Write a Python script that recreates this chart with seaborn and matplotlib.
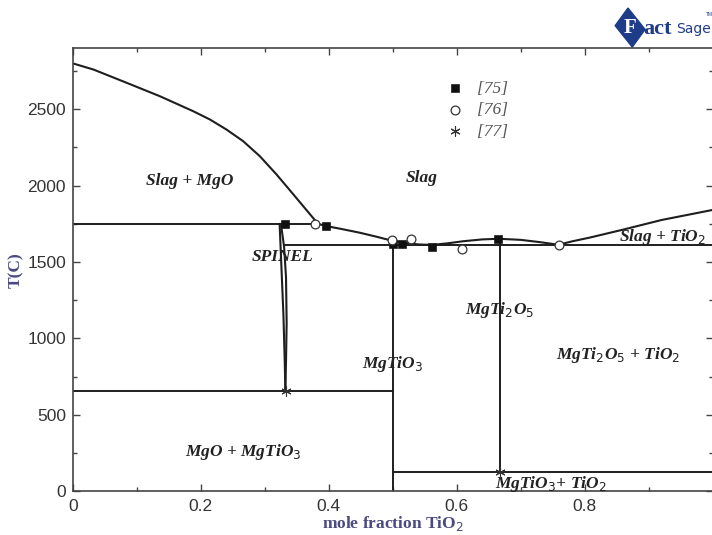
import numpy as np
import pandas as pd
import seaborn as sns
import matplotlib.pyplot as plt
from matplotlib.ticker import MultipleLocator
from matplotlib.patches import Polygon

# --- phase boundaries (x = mole fraction TiO2, T in C) ---
mgo_liq_x = [0, 0.032, 0.084, 0.136, 0.188, 0.214, 0.240, 0.266, 0.292, 0.318, 0.344, 0.365, 0.383]
mgo_liq_t = [2800, 2760, 2673, 2585, 2487, 2433, 2367, 2291, 2193, 2074, 1945, 1840, 1750]

slag_liq_x = [0.383, 0.396, 0.42, 0.448, 0.475, 0.498, 0.52, 0.54, 0.561, 0.585, 0.61, 0.64, 0.666,
              0.70, 0.73, 0.759, 0.78, 0.808, 0.86, 0.92, 1.0]
slag_liq_t = [1750, 1735, 1716, 1692, 1665, 1640, 1625, 1615, 1612, 1622, 1636, 1648, 1652,
              1645, 1630, 1613, 1635, 1660, 1712, 1775, 1841]

spinel_left_x = [0.323, 0.326, 0.329, 0.331, 0.332]
spinel_left_t = [1750, 1450, 1150, 850, 653]
spinel_right_x = [0.325, 0.330, 0.333, 0.334, 0.333, 0.332]
spinel_right_t = [1750, 1600, 1400, 1100, 850, 653]

# straight boundaries: (x0, x1, T0, T1)
segments = [
    (0.0, 0.383, 1750, 1750),
    (0.331, 1.0, 1612, 1612),
    (0.0, 0.5, 653, 653),
    (0.5, 1.0, 124, 124),
    (0.5, 0.5, 0, 1640),
    (0.667, 0.667, 124, 1652),
]

# experimental points
ref75_x = [0.331, 0.396, 0.5, 0.515, 0.561, 0.665]
ref75_t = [1750, 1735, 1615, 1615, 1600, 1648]
ref76_x = [0.378, 0.498, 0.528, 0.608, 0.759]
ref76_t = [1750, 1645, 1648, 1584, 1610]
ref77_x = [0.333, 0.667]
ref77_t = [653, 124]

region_labels = ["Slag + MgO", "Slag", "SPINEL", r"Slag + TiO$_2$", r"MgTi$_2$O$_5$",
                 r"MgTiO$_3$", r"MgTi$_2$O$_5$ + TiO$_2$", r"MgO + MgTiO$_3$", r"MgTiO$_3$+ TiO$_2$"]
label_x = [0.183, 0.545, 0.328, 0.922, 0.667, 0.5, 0.853, 0.266, 0.747]
label_t = [2030, 2050, 1534, 1664, 1188, 835, 888, 255, 46]

sns.set_style("ticks")
plt.rcParams['font.family'] = ['Liberation Sans', 'DejaVu Sans']

fig = plt.figure(figsize=(7.12, 5.35), dpi=100)
ax = fig.add_axes([0.1025, 0.082, 0.8985, 0.828])

lc = '#1e1e1e'
for xs, ts in [(mgo_liq_x, mgo_liq_t), (slag_liq_x, slag_liq_t),
               (spinel_left_x, spinel_left_t), (spinel_right_x, spinel_right_t)]:
    df = pd.DataFrame({'x': xs, 'T': ts})
    sns.lineplot(data=df, x='x', y='T', sort=False, estimator=None, color=lc, lw=1.5, ax=ax)
for x0, x1, t0, t1 in segments:
    df = pd.DataFrame({'x': [x0, x1], 'T': [t0, t1]})
    sns.lineplot(data=df, x='x', y='T', sort=False, estimator=None, color=lc, lw=1.4, ax=ax)

sns.scatterplot(x=ref75_x, y=ref75_t, marker='s', s=30, color='#111111', edgecolor='#111111',
                ax=ax, zorder=5, label='[75]')
sns.scatterplot(x=ref76_x, y=ref76_t, marker='o', s=40, facecolor='white', edgecolor='#333333',
                linewidth=0.9, ax=ax, zorder=5, label='[76]')
sns.scatterplot(x=ref77_x, y=ref77_t, marker=(6, 2, 0), s=45, color='#333333',
                linewidth=0.8, ax=ax, zorder=5, label='[77]')

leg = ax.legend(loc='upper left', bbox_to_anchor=(0.559, 0.942), frameon=False,
                handletextpad=0.3, labelspacing=0.3, borderaxespad=0,
                prop={'family': 'Liberation Serif', 'style': 'italic', 'size': 12.5})
for t in leg.get_texts():
    t.set_color('#555555')

for txt, x, t in zip(region_labels, label_x, label_t):
    ax.text(x, t, txt, ha='center', va='center', fontsize=12.5, fontweight='bold',
            fontstyle='italic', family='Liberation Serif', color='#222222')

ax.set_xlim(0, 1)
ax.set_ylim(0, 2900)
ax.xaxis.set_major_locator(MultipleLocator(0.2))
ax.xaxis.set_minor_locator(MultipleLocator(0.1))
ax.yaxis.set_major_locator(MultipleLocator(500))
ax.yaxis.set_minor_locator(MultipleLocator(250))
ax.set_xticks([0, 0.2, 0.4, 0.6, 0.8, 1.0])
ax.set_xticklabels(['0', '0.2', '0.4', '0.6', '0.8', ''])
ax.tick_params(which='both', direction='in', top=True, right=True, colors='#444444',
               labelcolor='#333333', labelsize=12.5)
ax.tick_params(axis='x', pad=6)
ax.tick_params(axis='y', pad=5)
ax.tick_params(which='major', length=5, width=1)
ax.tick_params(which='minor', length=3, width=1)
for sp in ax.spines.values():
    sp.set_color('#444444')
    sp.set_linewidth(1.2)

lab_color = '#4a4a80'
ax.set_xlabel(r'mole fraction TiO$_2$', fontsize=12.5, fontweight='bold', family='Liberation Serif',
              color=lab_color, labelpad=0)
ax.set_ylabel('T(C)', fontsize=12.5, fontweight='bold', family='Liberation Serif',
              color=lab_color, labelpad=2)

# FactSage logo
diamond = Polygon([[0.882, 0.985], [0.906, 0.945], [0.888, 0.912], [0.864, 0.952]],
                  closed=True, transform=fig.transFigure, color='#1f3c88')
fig.patches.append(diamond)
fig.text(0.885, 0.948, 'F', color='white', fontsize=15, fontweight='bold',
         family='Liberation Serif', ha='center', va='center')
fig.text(0.904, 0.946, 'act', color='#1f3c88', fontsize=16, fontweight='bold',
         family='Liberation Serif', ha='left', va='center')
fig.text(0.950, 0.946, 'Sage', color='#1f3c88', fontsize=10, family='Liberation Sans Narrow',
         ha='left', va='center')
fig.text(0.996, 0.972, 'TM', color='#1f3c88', fontsize=3.5, ha='center', va='center')

fig.savefig('out.png', dpi=100)
